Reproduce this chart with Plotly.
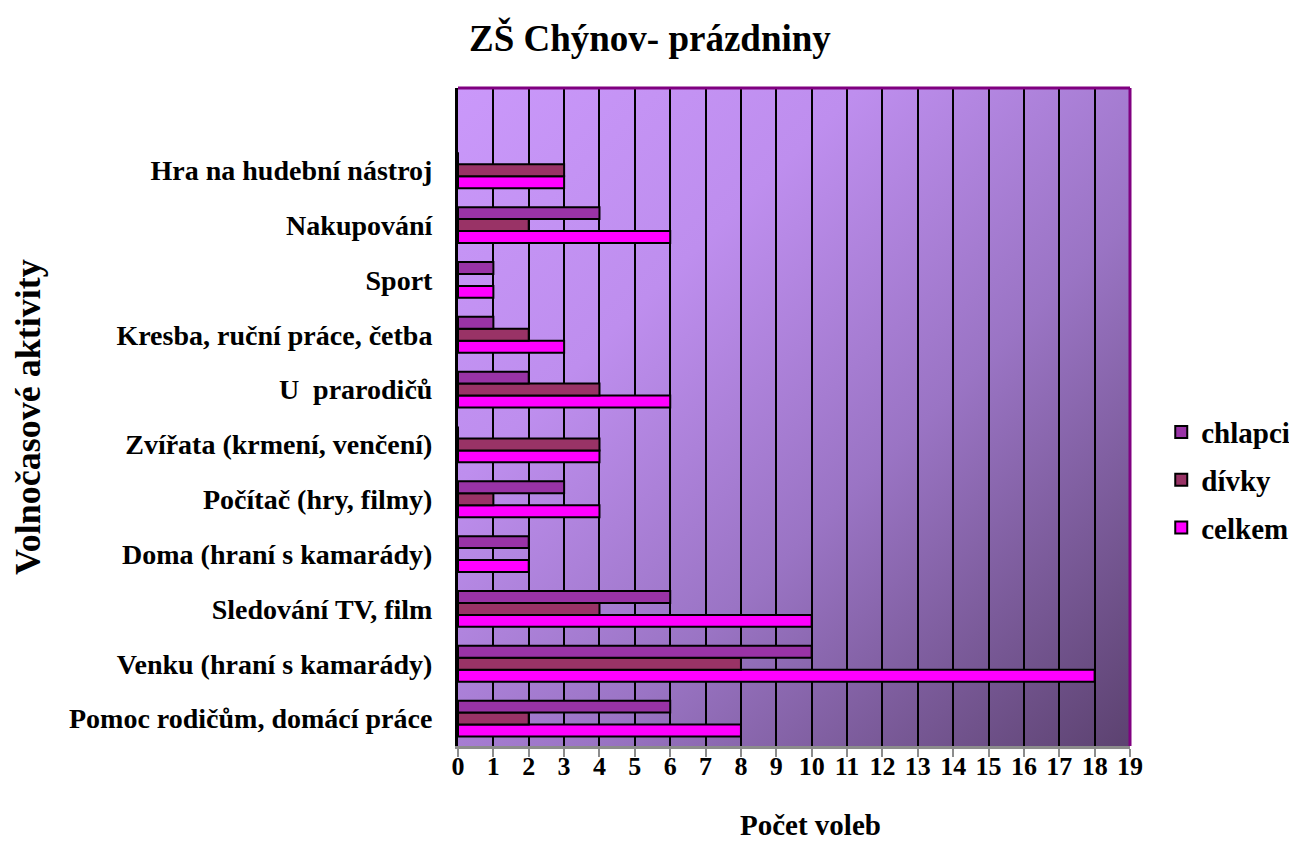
import base64
import plotly.graph_objects as go

# categories bottom -> top (top slot is an empty row in the source sheet)
activities = [
    "Pomoc rodičům, domácí práce",
    "Venku (hraní s kamarády)",
    "Sledování TV, film",
    "Doma (hraní s kamarády)",
    "Počítač (hry, filmy)",
    "Zvířata (krmení, venčení)",
    "U  prarodičů",
    "Kresba, ruční práce, četba",
    "Sport",
    "Nakupování",
    "Hra na hudební nástroj",
    " ",
]
chlapci = [6, 10, 6, 2, 3, 0, 2, 1, 1, 4, 0, None]
divky = [2, 8, 4, 0, 1, 4, 4, 2, 0, 2, 3, None]
celkem = [8, 18, 10, 2, 4, 4, 6, 3, 1, 6, 3, None]
x_ticks = list(range(0, 20))

FONT = "Liberation Serif, Times New Roman, serif"

# diagonal gradient for the plot area, light lavender -> dark violet
svg = (
    '<svg xmlns="http://www.w3.org/2000/svg" width="100" height="100" '
    'viewBox="0 0 100 100" preserveAspectRatio="none">'
    '<defs><linearGradient id="g" x1="0" y1="0" x2="1" y2="1">'
    '<stop offset="0" stop-color="#CA98FA"/>'
    '<stop offset="0.3" stop-color="#BE8EEE"/>'
    '<stop offset="0.6" stop-color="#9A74C4"/>'
    '<stop offset="1" stop-color="#5C4270"/>'
    '</linearGradient></defs>'
    '<rect width="100" height="100" fill="url(#g)"/></svg>'
)
bg_src = "data:image/svg+xml;base64," + base64.b64encode(svg.encode()).decode()

fig = go.Figure()
# added bottom-first so chlapci ends up on top inside each group
series = [
    ("celkem", celkem, "#FF00FF", 3),
    ("dívky", divky, "#993366", 2),
    ("chlapci", chlapci, "#9933A6", 1),
]
for name, vals, col, rank in series:
    fig.add_trace(go.Bar(
        y=activities, x=vals, name=f"<b>{name}</b>", orientation="h",
        legendgroup=name, legendrank=rank,
        marker=dict(color=col, line=dict(color="black", width=2)),
    ))

# the page body has an 8px margin, so the figure is 8px smaller on the
# right/bottom and all margins are shifted by 8
fig.update_layout(
    width=1289, height=847,
    barmode="group", bargap=0.345, bargroupgap=0,
    paper_bgcolor="white", plot_bgcolor="rgba(0,0,0,0)",
    margin=dict(l=450, r=167, t=80, b=109, autoexpand=False),
    font=dict(family=FONT, size=28, color="black"),
    title=dict(text="<b>ZŠ Chýnov- prázdniny</b>", x=0.498, xanchor="center",
               y=0.9646, yanchor="middle", font=dict(size=37)),
    legend=dict(x=1.0465, y=0.404, xanchor="left", yanchor="middle",
                traceorder="grouped", tracegroupgap=7,
                font=dict(size=29), bgcolor="rgba(0,0,0,0)"),
    images=[dict(source=bg_src, xref="paper", yref="paper", x=0, y=1,
                 sizex=1, sizey=1, xanchor="left", yanchor="top",
                 sizing="stretch", layer="below")],
    showlegend=True,
)

fig.update_xaxes(
    range=[0, 19], tickvals=x_ticks, ticktext=[f"<b>{t}</b>" for t in x_ticks],
    showgrid=True, gridcolor="black", gridwidth=2,
    showline=True, linecolor="#8C8C8C", linewidth=3,
    ticks="outside", ticklen=8, tickwidth=2, tickcolor="#8C8C8C",
    ticklabelstandoff=-13, tickfont=dict(size=26), zeroline=False, fixedrange=True,
)
fig.update_yaxes(
    categoryorder="array", categoryarray=activities,
    tickvals=activities, ticktext=[f"<b>{a}</b>" for a in activities],
    showgrid=False, showline=True, linecolor="black", linewidth=3,
    ticks="", ticklabelstandoff=17, tickfont=dict(size=28),
    zeroline=False, fixedrange=True,
)

# purple frame on top and right of the plot area
fig.add_shape(type="line", xref="paper", yref="paper", x0=0, x1=1, y0=1, y1=1,
              line=dict(color="#800080", width=3))
fig.add_shape(type="line", xref="paper", yref="paper", x0=1, x1=1, y0=0, y1=1,
              line=dict(color="#800080", width=3))

# axis titles
fig.add_annotation(text="<b>Počet voleb</b>", xref="paper", yref="paper",
                   x=0.525, y=-0.12, xanchor="center", yanchor="middle",
                   showarrow=False, font=dict(size=29))
fig.add_annotation(text="<b>Volnočasové aktivity</b>", xref="paper", yref="paper",
                   x=-0.64, y=0.5, xanchor="center", yanchor="middle",
                   textangle=-90, showarrow=False, font=dict(size=36))

fig.write_html("out.html")
